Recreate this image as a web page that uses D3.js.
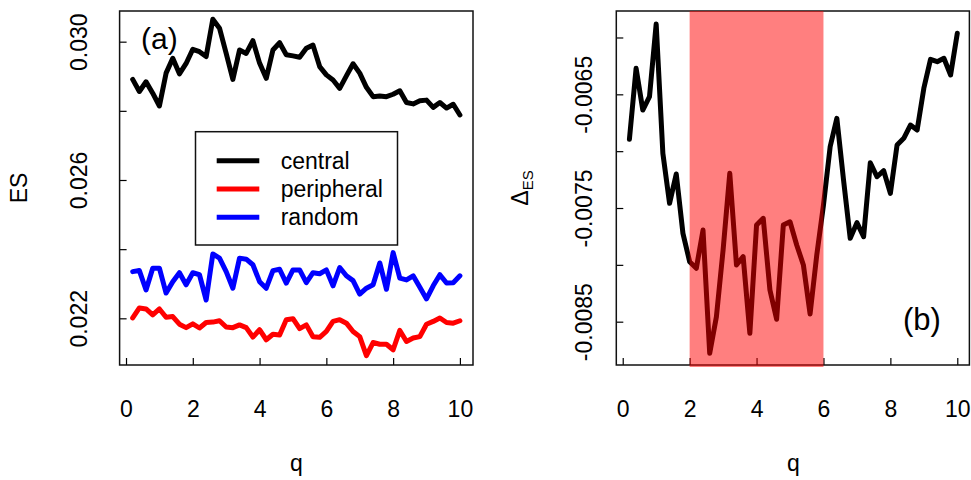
<!DOCTYPE html>
<html>
<head>
<meta charset="utf-8">
<script src="https://cdn.jsdelivr.net/npm/d3@7"></script>
<style>
  body { margin: 0; background: #fff; }
  svg { font-family: "Liberation Sans", Arial, sans-serif; }
</style>
</head>
<body>
<svg id="chart" width="971" height="480"></svg>
<script>
// q values 0.2 .. 10 step 0.2
var qValues = [0.2,0.4,0.6,0.8,1.0,1.2,1.4,1.6,1.8,2.0,2.2,2.4,2.6,2.8,3.0,3.2,3.4,3.6,3.8,4.0,
  4.2,4.4,4.6,4.8,5.0,5.2,5.4,5.6,5.8,6.0,6.2,6.4,6.6,6.8,7.0,7.2,7.4,7.6,7.8,8.0,
  8.2,8.4,8.6,8.8,9.0,9.2,9.4,9.6,9.8,10.0];

var central = [0.02891,0.02856,0.02884,0.02851,0.02814,0.02909,0.02952,0.02907,0.02937,0.02978,
  0.02971,0.02957,0.03065,0.03039,0.02966,0.02891,0.02976,0.02966,0.03003,0.02938,
  0.02894,0.02976,0.02997,0.02962,0.02959,0.02955,0.02981,0.02990,0.02928,0.02904,
  0.02889,0.02865,0.02901,0.02936,0.02909,0.02868,0.02841,0.02843,0.02841,0.02848,
  0.02858,0.02824,0.02820,0.02829,0.02831,0.02810,0.02824,0.02808,0.02819,0.02788];

var peripheral = [0.02201,0.02230,0.02227,0.02210,0.02227,0.02203,0.02205,0.02183,0.02173,0.02184,
  0.02172,0.02188,0.02189,0.02193,0.02175,0.02173,0.02181,0.02173,0.02146,0.02167,
  0.02138,0.02154,0.02152,0.02196,0.02199,0.02170,0.02181,0.02147,0.02145,0.02162,
  0.02191,0.02196,0.02186,0.02162,0.02147,0.02092,0.02130,0.02125,0.02125,0.02109,
  0.02165,0.02133,0.02143,0.02147,0.02183,0.02191,0.02201,0.02188,0.02186,0.02193];

var random = [0.02335,0.02338,0.02282,0.02345,0.02345,0.02273,0.02306,0.02332,0.02297,0.02332,
  0.02326,0.02253,0.02386,0.02374,0.02335,0.02287,0.02374,0.02371,0.02355,0.02306,
  0.02287,0.02338,0.02342,0.02302,0.02340,0.02340,0.02303,0.02332,0.02329,0.02340,
  0.02294,0.02347,0.02323,0.02309,0.02270,0.02287,0.02297,0.02360,0.02284,0.02390,
  0.02316,0.02311,0.02323,0.02290,0.02256,0.02294,0.02326,0.02302,0.02303,0.02323];

var deltaES = [-0.006896,-0.006271,-0.006638,-0.006521,-0.005882,-0.007019,-0.007459,-0.007201,-0.007723,-0.007972,
  -0.008030,-0.007694,-0.008778,-0.008456,-0.007869,-0.007195,-0.008001,-0.007928,-0.008602,-0.007650,
  -0.007591,-0.008221,-0.008479,-0.007650,-0.007621,-0.007825,-0.008001,-0.008432,-0.007913,-0.007474,
  -0.006961,-0.006711,-0.007254,-0.007767,-0.007629,-0.007752,-0.007102,-0.007225,-0.007172,-0.007371,
  -0.006946,-0.006887,-0.006770,-0.006814,-0.006447,-0.006192,-0.006213,-0.006183,-0.006330,-0.005963];

var xTicks = [0, 2, 4, 6, 8, 10];
var leftTicks = [0.022, 0.024, 0.026, 0.028, 0.030];
var leftLabels = [0.022, 0.026, 0.030];
var rightTicks = [-0.0085, -0.0080, -0.0075, -0.0070, -0.0065, -0.0060];
var rightLabels = [-0.0085, -0.0075, -0.0065];
var shadeRange = [2, 6];

var seriesNames = ["central", "peripheral", "random"];
var seriesColors = ["#000000", "#ff0000", "#0000ff"];

var svg = d3.select("#chart");
var plotTop = 11, plotBottom = 365;
var fontSize = 23;
var lineWidth = 5;

function drawPanel(left, right, yDomain, yTicks, yLabels, yFmt, labelOff) {
  var g = svg.append("g");
  var x = d3.scaleLinear().domain([-0.192, 10.392]).range([left, right]);
  var y = d3.scaleLinear().domain(yDomain).range([plotBottom, plotTop]);

  var xAxis = g.append("g")
    .attr("transform", "translate(0," + plotBottom + ")")
    .call(d3.axisBottom(x).tickValues(xTicks).tickSize(-7).tickPadding(36).tickFormat(d3.format("d")));
  xAxis.attr("font-size", fontSize).attr("font-family", null);
  xAxis.select(".domain").remove();
  xAxis.selectAll("line").attr("stroke", "#000").attr("stroke-width", 1.2);
  xAxis.selectAll("text").attr("fill", "#000");

  var yAxis = g.append("g")
    .attr("transform", "translate(" + left + ",0)")
    .call(d3.axisLeft(y).tickValues(yTicks).tickSize(-7)
      .tickFormat(function(d) {
        return yLabels.some(function(v) { return Math.abs(v - d) < 1e-9; }) ? yFmt(d) : "";
      }));
  yAxis.attr("font-size", fontSize).attr("font-family", null);
  yAxis.select(".domain").remove();
  yAxis.selectAll("line").attr("stroke", "#000").attr("stroke-width", 1.2);
  yAxis.selectAll("text")
    .attr("x", null).attr("dy", null)
    .attr("transform", "translate(" + (-labelOff) + ",0) rotate(-90)")
    .attr("text-anchor", "middle")
    .attr("fill", "#000");

  g.append("text")
    .attr("x", (left + right) / 2).attr("y", 471)
    .attr("text-anchor", "middle").attr("font-size", fontSize)
    .text("q");

  return { g: g, x: x, y: y, left: left, right: right };
}

// panel (a)
var pa = drawPanel(119.6, 473, [0.02065, 0.030887], leftTicks, leftLabels,
  function(d) { return d.toFixed(3); }, 33);

var line = function(p, vals) {
  return d3.line().x(function(d, i) { return p.x(qValues[i]); }).y(function(d) { return p.y(d); })(vals);
};

[central, peripheral, random].forEach(function(s, i) {
  pa.g.append("path").attr("d", line(pa, s))
    .attr("fill", "none").attr("stroke", seriesColors[i]).attr("stroke-width", lineWidth)
    .attr("stroke-linejoin", "round").attr("stroke-linecap", "round");
});

pa.g.append("rect").attr("x", pa.left).attr("y", plotTop)
  .attr("width", pa.right - pa.left).attr("height", plotBottom - plotTop)
  .attr("fill", "none").attr("stroke", "#111").attr("stroke-width", 1.5);

pa.g.append("text").attr("x", 141).attr("y", 49).attr("font-size", 30).text("(a)");

// legend
var lg = pa.g.append("g");
lg.append("rect").attr("x", 195.5).attr("y", 131.7).attr("width", 202).attr("height", 113.3)
  .attr("fill", "#fff").attr("stroke", "#111").attr("stroke-width", 1.5);
seriesNames.forEach(function(n, i) {
  var yy = 160.7 + i * 28.3;
  lg.append("line").attr("x1", 216.7).attr("x2", 259.3).attr("y1", yy).attr("y2", yy)
    .attr("stroke", seriesColors[i]).attr("stroke-width", lineWidth);
  lg.append("text").attr("x", 280.7).attr("y", yy + 8).attr("font-size", fontSize).text(n);
});

svg.append("text")
  .attr("transform", "translate(27,188) rotate(-90)")
  .attr("text-anchor", "middle").attr("font-size", fontSize)
  .text("ES");

// panel (b)
var pb = drawPanel(616.3, 970.4, [-0.008881, -0.005767], rightTicks, rightLabels,
  function(d) { return d.toFixed(4); }, 24.6);

pb.g.append("path").attr("d", line(pb, deltaES))
  .attr("fill", "none").attr("stroke", "#000").attr("stroke-width", lineWidth)
  .attr("stroke-linejoin", "round").attr("stroke-linecap", "round");

pb.g.append("rect").attr("x", pb.left).attr("y", plotTop)
  .attr("width", pb.right - pb.left - 1).attr("height", plotBottom - plotTop)
  .attr("fill", "none").attr("stroke", "#111").attr("stroke-width", 1.5);

pb.g.append("rect")
  .attr("x", pb.x(shadeRange[0])).attr("y", plotTop)
  .attr("width", pb.x(shadeRange[1]) - pb.x(shadeRange[0]))
  .attr("height", plotBottom + 2 - plotTop)
  .attr("fill", "rgba(255,0,0,0.5)");

pb.g.append("text").attr("x", 903).attr("y", 330).attr("font-size", 31).text("(b)");

var dl = svg.append("text")
  .attr("transform", "translate(528,188) rotate(-90)")
  .attr("text-anchor", "middle").attr("font-size", fontSize);
dl.append("tspan").text("\u0394");
dl.append("tspan").attr("dy", 5).attr("font-size", 15).text("ES");
</script>
</body>
</html>
